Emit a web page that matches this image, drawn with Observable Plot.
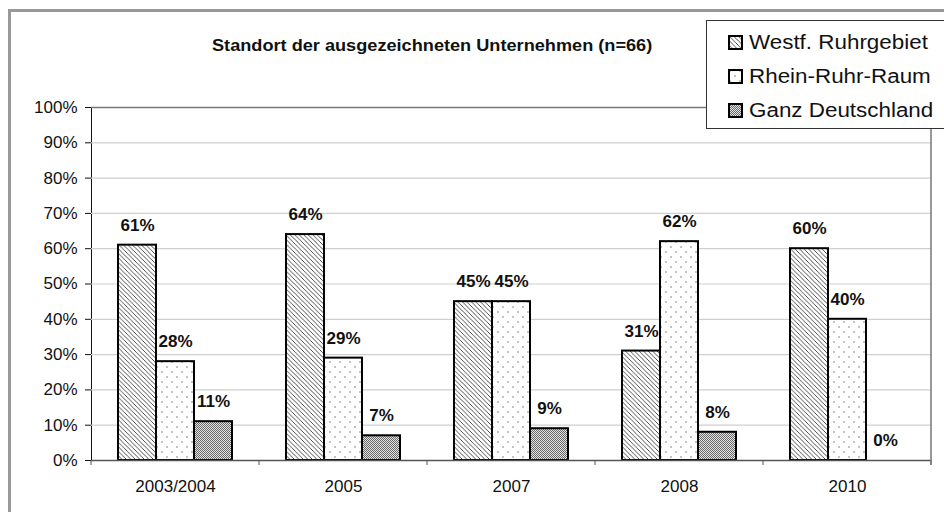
<!DOCTYPE html>
<html>
<head>
<meta charset="utf-8">
<script src="https://cdn.jsdelivr.net/npm/d3@7"></script>
<script src="https://cdn.jsdelivr.net/npm/@observablehq/plot@0.6"></script>
<style>
  html, body { margin: 0; padding: 0; background: #fff; overflow: hidden; }
  #wrap { position: relative; width: 944px; height: 512px; overflow: hidden; font-family: "Liberation Sans", Arial, sans-serif; }
  #frame { position: absolute; left: 8px; top: 9px; width: 1200px; height: 800px; border-left: 3px solid #999; border-top: 3px solid #999; box-sizing: border-box; }
  #chart { position: absolute; left: 0; top: 0; }
  #title { position: absolute; left: 212px; top: 36px; font-weight: bold; font-size: 16.5px; color: #111; white-space: nowrap; transform: scaleX(1.1); transform-origin: left center; }
  #legend { position: absolute; left: 706px; top: 20px; width: 260px; height: 109px; border: 1.5px solid #333; background: #fff; box-sizing: border-box; }
  .row { position: absolute; left: 0; height: 24px; display: flex; align-items: center; }
  .row svg { position: absolute; left: 21px; }
  .row span { position: absolute; left: 42px; font-size: 20px; color: #111; white-space: nowrap; transform: scaleX(1.12); transform-origin: left center; line-height: 24px; }
</style>
</head>
<body>
<svg width="0" height="0" style="position:absolute">
  <defs>
    <pattern id="pat-hatch" width="4.5" height="4.5" patternUnits="userSpaceOnUse">
      <rect width="4.5" height="4.5" fill="#fff"/>
      <path d="M-1,-1 L5.5,5.5 M-1,3.5 L1,5.5 M3.5,-1 L5.5,1" stroke="#222" stroke-width="0.8"/>
    </pattern>
    <pattern id="pat-dots" width="10" height="10" patternUnits="userSpaceOnUse">
      <rect width="10" height="10" fill="#fff"/>
      <circle cx="2" cy="2" r="0.7" fill="#555"/>
      <circle cx="7" cy="7" r="0.7" fill="#555"/>
    </pattern>
    <pattern id="pat-grid" width="2" height="2" patternUnits="userSpaceOnUse">
      <rect width="2" height="2" fill="#e2e2e2"/>
      <rect x="0" y="0" width="1" height="1" fill="#6a6a6a"/>
      <rect x="1" y="1" width="1" height="1" fill="#6a6a6a"/>
    </pattern>
  </defs>
</svg>
<div id="wrap">
  <div id="frame"></div>
  <div id="chart"></div>
  <div id="title"></div>
  <div id="legend"></div>
</div>
<script>
// ---- data ----
const title = "Standort der ausgezeichneten Unternehmen (n=66)";
const years = ["2003/2004", "2005", "2007", "2008", "2010"];
const series = ["Westf. Ruhrgebiet", "Rhein-Ruhr-Raum", "Ganz Deutschland"];
const westf = [61, 64, 45, 31, 60];
const rhein = [28, 29, 45, 62, 40];
const ganz  = [11, 7, 9, 8, 0];
const yTicks = [0, 10, 20, 30, 40, 50, 60, 70, 80, 90, 100];
const fills = ["url(#pat-hatch)", "url(#pat-dots)", "url(#pat-grid)"];

const seriesValues = [westf, rhein, ganz];
const data = years.flatMap((year, i) =>
  series.map((s, j) => ({ year, series: s, value: seriesValues[j][i] }))
);

const chart = Plot.plot({
  width: 944,
  height: 512,
  marginLeft: 91,
  marginRight: 13,
  marginTop: 107,
  marginBottom: 52,
  style: { fontFamily: "Liberation Sans, Arial, sans-serif", fontSize: "17px", color: "#111", background: "transparent", overflow: "visible" },
  facet: { data, x: "year" },
  fx: { domain: years, padding: 0, label: null, axis: "bottom", tickSize: 0, tickPadding: 19 },
  x: { domain: series, axis: null, paddingInner: 0, paddingOuter: 0.71 },
  y: { domain: [0, 100], ticks: yTicks, tickFormat: d => d + "%", label: null, tickSize: 6, tickPadding: 8, line: true },
  color: { domain: series, range: fills },
  marks: [
    Plot.ruleY(yTicks.slice(1, -1), { stroke: "#cfcfcf", strokeWidth: 1.2 }),
    Plot.ruleY([100], { stroke: "#777", strokeWidth: 1.5 }),
    Plot.barY(data, { x: "series", y: "value", fill: "series", stroke: "#000", strokeWidth: 2 }),
    Plot.text(data, { x: "series", y: "value", text: d => d.value + "%", dy: -20, fontWeight: "bold", fontSize: 17, fill: "#111" }),
    Plot.ruleY([0], { stroke: "#555", strokeWidth: 1.5 })
  ]
});
document.getElementById("chart").appendChild(chart);

// category boundary ticks and right border, from the library's scales
const fx = chart.scale("fx");
const ys = chart.scale("y");
const y0 = ys.apply(0), y100 = ys.apply(100);
const bounds = years.map(y => fx.apply(y)).concat([fx.apply(years[years.length - 1]) + fx.bandwidth]);
const svg = d3.select(chart);
svg.append("g").selectAll("line").data(bounds).join("line")
  .attr("x1", d => d).attr("x2", d => d)
  .attr("y1", y0).attr("y2", y0 + 5)
  .attr("stroke", "#555").attr("stroke-width", 1);
svg.append("line")
  .attr("x1", bounds[bounds.length - 1]).attr("x2", bounds[bounds.length - 1])
  .attr("y1", y100).attr("y2", y0 + 5)
  .attr("stroke", "#777").attr("stroke-width", 1.5);

// title
document.getElementById("title").textContent = title;

// legend
const legend = document.getElementById("legend");
const rowTops = [9, 43, 77];
series.forEach((s, i) => {
  const row = document.createElement("div");
  row.className = "row";
  row.style.top = rowTops[i] + "px";
  row.innerHTML = `<svg width="15" height="15" viewBox="0 0 15 15"><rect x="1" y="1" width="13" height="13" fill="${fills[i]}" stroke="#000" stroke-width="2"/></svg><span></span>`;
  row.querySelector("span").textContent = s;
  legend.appendChild(row);
});
</script>
</body>
</html>
